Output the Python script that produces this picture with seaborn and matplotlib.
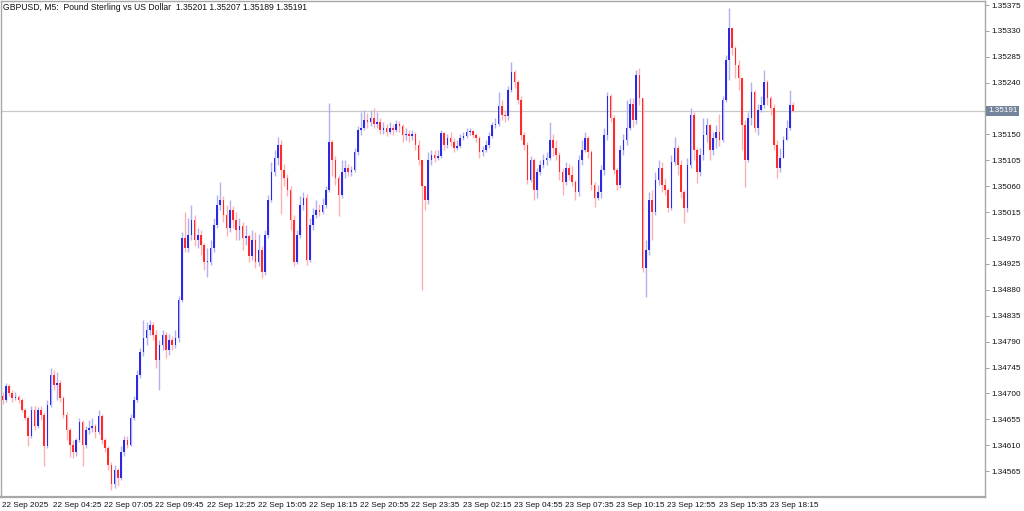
import numpy as np
import pandas as pd
import matplotlib
matplotlib.use("Agg")
import matplotlib.pyplot as plt
import matplotlib.transforms as mtransforms
import seaborn as sns

# GBPUSD M5, prices in points (1e-5) (two M5 bars per candle)
first_open_pts = 134695
close_pts = [
    134689, 134713, 134701, 134692, 134694, 134689, 134671, 134657, 134626, 134671,
    134644, 134671, 134663, 134609, 134680, 134732, 134715, 134718, 134692, 134663,
    134637, 134610, 134598, 134619, 134651, 134610, 134637, 134640, 134644, 134633,
    134661, 134619, 134605, 134576, 134543, 134567, 134553, 134598, 134619, 134610,
    134657, 134689, 134732, 134772, 134796, 134810, 134819, 134802, 134758, 134784,
    134802, 134776, 134793, 134784, 134796, 134862, 134970, 134953, 134975, 135001,
    134967, 134975, 134958, 134929, 134929, 134953, 134993, 135028, 135036, 135010,
    134988, 135019, 135001, 134984, 134991, 134970, 134974, 134939, 134967, 134929,
    134949, 134911, 134975, 135036, 135085, 135109, 135132, 135088, 135074, 135054,
    135001, 134929, 134975, 135028, 135040, 134932, 134993, 135010, 135019, 135015,
    135028, 135054, 135137, 135106, 135074, 135045, 135085, 135092, 135085, 135088,
    135120, 135158, 135161, 135175, 135172, 135179, 135168, 135172, 135158, 135161,
    135154, 135161, 135158, 135168, 135165, 135149, 135151, 135147, 135151, 135132,
    135106, 135061, 135036, 135106, 135114, 135109, 135113, 135153, 135132, 135144,
    135137, 135127, 135130, 135144, 135147, 135154, 135156, 135149, 135144, 135120,
    135123, 135132, 135147, 135167, 135168, 135200, 135184, 135182, 135227, 135259,
    135241, 135210, 135149, 135132, 135071, 135106, 135054, 135085, 135097, 135106,
    135109, 135140, 135127, 135114, 135085, 135068, 135092, 135080, 135068, 135050,
    135106, 135123, 135144, 135120, 135062, 135040, 135050, 135088, 135149, 135217,
    135179, 135088, 135062, 135123, 135140, 135161, 135203, 135175, 135253, 135213,
    134918, 134949, 135036, 135015, 135071, 135092, 135062, 135054, 135022, 135102,
    135127, 135097, 135050, 135022, 135097, 135184, 135123, 135085, 135114, 135149,
    135167, 135123, 135144, 135154, 135140, 135210, 135280, 135335, 135300, 135271,
    135248, 135167, 135106, 135179, 135224, 135161, 135193, 135201, 135241, 135213,
    135196, 135132, 135092, 135109, 135140, 135161, 135201, 135191,
]
high_pts = [
    134703, 134718, 134717, 134706, 134703, 134697, 134692, 134675, 134661, 134678,
    134678, 134677, 134678, 134668, 134689, 134744, 134741, 134737, 134724, 134696,
    134668, 134640, 134619, 134623, 134657, 134654, 134644, 134654, 134657, 134647,
    134671, 134664, 134623, 134609, 134581, 134576, 134571, 134609, 134626, 134626,
    134664, 134696, 134741, 134779, 134828, 134824, 134828, 134824, 134810, 134793,
    134810, 134807, 134803, 134800, 134810, 134869, 134981, 135015, 135005, 135028,
    135010, 134988, 134984, 134961, 134953, 134967, 135005, 135045, 135068, 135043,
    135028, 135036, 135026, 135015, 135005, 134998, 134993, 134977, 134984, 134981,
    134977, 134956, 134984, 135045, 135102, 135123, 135146, 135140, 135099, 135081,
    135061, 135010, 134984, 135043, 135050, 135047, 135005, 135022, 135036, 135029,
    135040, 135061, 135205, 135140, 135113, 135080, 135106, 135106, 135099, 135095,
    135127, 135165, 135189, 135193, 135187, 135193, 135196, 135189, 135179, 135172,
    135168, 135172, 135168, 135175, 135173, 135168, 135161, 135158, 135158, 135154,
    135140, 135106, 135061, 135120, 135123, 135123, 135123, 135158, 135154, 135151,
    135154, 135144, 135140, 135151, 135154, 135161, 135161, 135158, 135153, 135147,
    135130, 135140, 135154, 135172, 135179, 135224, 135210, 135193, 135234, 135276,
    135262, 135245, 135217, 135154, 135137, 135113, 135109, 135092, 135106, 135116,
    135120, 135172, 135151, 135140, 135120, 135092, 135102, 135099, 135095, 135071,
    135114, 135140, 135154, 135147, 135123, 135068, 135062, 135097, 135161, 135224,
    135220, 135184, 135092, 135132, 135151, 135210, 135213, 135213, 135262, 135266,
    135213, 134967, 135050, 135054, 135085, 135106, 135102, 135074, 135057, 135114,
    135146, 135132, 135106, 135054, 135109, 135196, 135189, 135127, 135127, 135179,
    135179, 135168, 135154, 135167, 135186, 135217, 135288, 135370, 135335, 135304,
    135280, 135210, 135175, 135189, 135241, 135227, 135203, 135217, 135262, 135245,
    135217, 135203, 135140, 135127, 135147, 135175, 135227, 135207,
]
low_pts = [
    134682, 134685, 134696, 134685, 134689, 134683, 134668, 134654, 134609, 134623,
    134637, 134640, 134654, 134574, 134605, 134677, 134706, 134689, 134685, 134657,
    134619, 134590, 134588, 134591, 134616, 134574, 134605, 134630, 134633, 134623,
    134630, 134612, 134598, 134567, 134532, 134536, 134539, 134550, 134591, 134605,
    134609, 134654, 134685, 134727, 134765, 134784, 134802, 134793, 134744, 134706,
    134776, 134762, 134767, 134776, 134779, 134790, 134859, 134946, 134946, 134967,
    134956, 134953, 134941, 134915, 134902, 134923, 134946, 134988, 135019, 134998,
    134974, 134981, 134988, 134967, 134967, 134949, 134958, 134929, 134932, 134918,
    134922, 134901, 134906, 134970, 135033, 135078, 135097, 135012, 135061, 135043,
    134984, 134922, 134925, 134970, 135019, 134923, 134929, 134984, 135005, 135008,
    135012, 135022, 135050, 135078, 135062, 135008, 135040, 135074, 135078, 135078,
    135085, 135114, 135149, 135158, 135161, 135165, 135161, 135161, 135151, 135151,
    135147, 135151, 135149, 135154, 135154, 135137, 135140, 135137, 135140, 135123,
    135097, 134880, 135019, 135029, 135097, 135102, 135106, 135109, 135123, 135127,
    135130, 135120, 135123, 135127, 135140, 135144, 135149, 135144, 135137, 135109,
    135113, 135120, 135127, 135144, 135161, 135165, 135175, 135172, 135175, 135224,
    135231, 135203, 135140, 135123, 135064, 135068, 135036, 135040, 135080, 135092,
    135097, 135106, 135113, 135106, 135071, 135045, 135062, 135071, 135061, 135036,
    135043, 135097, 135120, 135109, 135054, 135024, 135036, 135040, 135080, 135140,
    135172, 135081, 135054, 135057, 135114, 135132, 135158, 135163, 135168, 135201,
    134911, 134868, 134941, 134967, 135010, 135062, 135050, 135045, 135015, 135019,
    135097, 135080, 135040, 134996, 135015, 135092, 135106, 135066, 135078, 135106,
    135137, 135106, 135114, 135127, 135130, 135137, 135207, 135245, 135288, 135248,
    135227, 135123, 135059, 135102, 135167, 135154, 135149, 135189, 135196, 135201,
    135184, 135123, 135074, 135085, 135109, 135149, 135158, 135189,
]

time_labels = ["22 Sep 2025", "22 Sep 04:25", "22 Sep 07:05", "22 Sep 09:45",
               "22 Sep 12:25", "22 Sep 15:05", "22 Sep 18:15", "22 Sep 20:55",
               "22 Sep 23:35", "23 Sep 02:15", "23 Sep 04:55", "23 Sep 07:35",
               "23 Sep 10:15", "23 Sep 12:55", "23 Sep 15:35", "23 Sep 18:15"]
label_every = 32  # bars between time labels
price_ticks_pts = list(range(134565, 135376, 45))
last_price = 1.35191
title = "GBPUSD, M5:  Pound Sterling vs US Dollar  1.35201 1.35207 1.35189 1.35191"

df = pd.DataFrame({"close": close_pts, "high": high_pts, "low": low_pts}) / 1e5
df["open"] = df["close"].shift(1).fillna(first_open_pts / 1e5)
df["high"] = np.maximum(df["high"], df[["open", "close"]].max(axis=1))
df["low"] = np.minimum(df["low"], df[["open", "close"]].min(axis=1))
df["bar"] = np.arange(len(df)) * 2 + 0.5
df["up"] = df["close"] >= df["open"]

sns.set_theme(style="white")
plt.rcParams["font.family"] = ["Liberation Sans", "DejaVu Sans"]

fig = plt.figure(figsize=(10.24, 5.11), dpi=100, facecolor="white")
ax = fig.add_axes([1 / 1024, 14 / 511, 984 / 1024, 496 / 511])

up_col, dn_col = "#2a2ae6", "#ff2a2a"
wick_up, wick_dn = "#b0b0f4", "#ffb0b0"

ax.axhline(last_price, color="#c8c8c8", lw=0.9, zorder=1)

ax.vlines(df["bar"], df["low"], df["high"],
          colors=np.where(df["up"], wick_up, wick_dn), lw=1.0, zorder=2)
body_lo = df[["open", "close"]].min(axis=1)
body_h = (df["close"] - df["open"]).abs().clip(lower=0.000012)
ax.bar(df["bar"], body_h, bottom=body_lo, width=1.0,
       color=np.where(df["up"], up_col, dn_col), linewidth=0, zorder=3)

ax.set_xlim(-0.5, 614.5)
ax.set_ylim(1.34520, 1.35382)

ax.set_xticks([i * label_every for i in range(len(time_labels))])
ax.set_xticklabels(time_labels, ha="left", fontsize=5.9, color="#111111")
yt = [p / 1e5 for p in price_ticks_pts if p != 135195]
ax.set_yticks(yt)
ax.set_yticklabels([f"{v:.5f}" for v in yt], fontsize=5.9, color="#111111")
ax.yaxis.tick_right()
ax.tick_params(axis="both", direction="out", length=3, width=0.6,
               color="#909090", pad=1.5)
ax.tick_params(axis="x", pad=0.5)

for s in ax.spines.values():
    s.set_color("#a8a8a8")
    s.set_linewidth(1.0)
ax.spines["bottom"].set_linewidth(1.6)

trans = mtransforms.blended_transform_factory(ax.transAxes, ax.transData)
ax.text(1.003, last_price, f"{last_price:.5f}", transform=trans, fontsize=5.9,
        color="white", va="center", ha="left",
        bbox=dict(boxstyle="square,pad=0.2", facecolor="#74849a", edgecolor="none"))

ax.text(0.002, 0.995, title, transform=ax.transAxes, fontsize=6.2,
        color="#111111", va="top", ha="left")

fig.savefig("out.png", dpi=100, facecolor="white")
